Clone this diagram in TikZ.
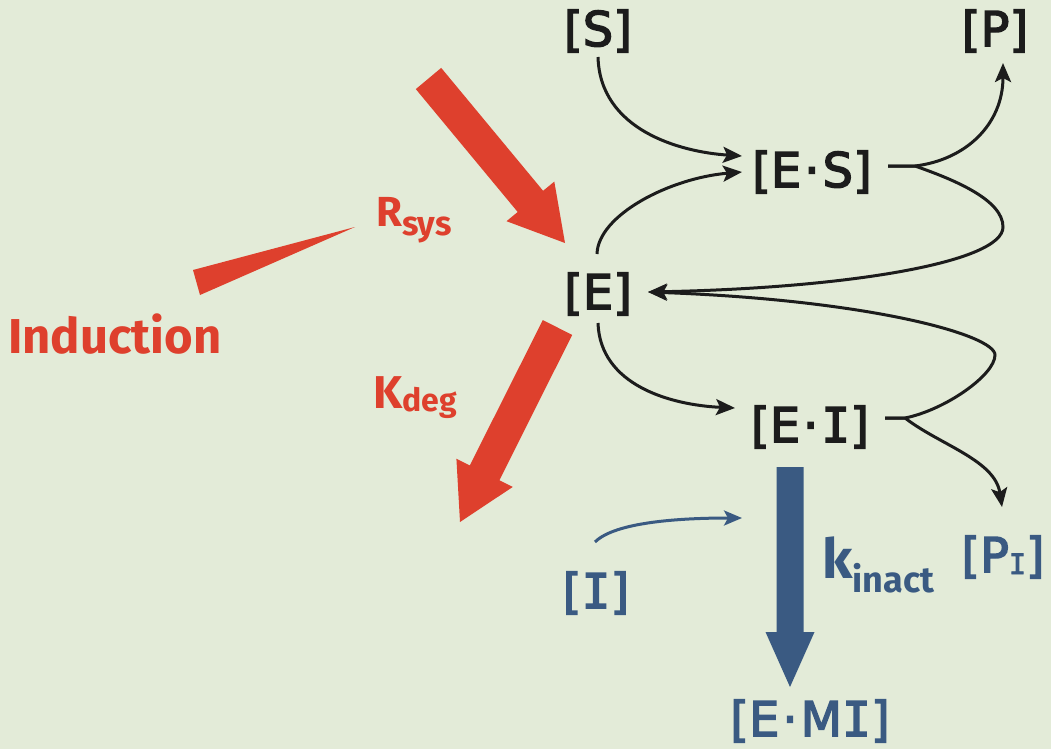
\documentclass[tikz,border=0pt]{standalone}
\usepackage{fontspec}
\usetikzlibrary{arrows.meta,calc}
\newfontfamily\brk{DejaVu Sans}[FakeBold=3]
\newfontfamily\brkm{DejaVu Sans Mono}[FakeBold=3]
\newfontfamily\cmc{Fira Sans}
\newcommand{\serI}{{\brkm I}}
\definecolor{bg}{RGB}{227,235,216}
\definecolor{redA}{RGB}{222,64,45}
\definecolor{blueA}{RGB}{58,90,130}
\definecolor{ink}{RGB}{28,28,28}
\tikzset{
  species/.style={inner sep=0pt, outer sep=0pt, font=\brk\fontsize{48}{52}\selectfont, text=ink},
  bspecies/.style={species, text=blueA},
  flow/.style={draw=ink, line width=3pt, -{Stealth[length=19pt,width=16pt,inset=4pt]}},
  bflow/.style={draw=blueA, line width=3pt, -{Stealth[length=18pt,width=15pt,inset=4pt]}},
  redlbl/.style={inner sep=0pt, text=redA, anchor=base west},
  bluelbl/.style={inner sep=0pt, text=blueA, anchor=base west},
}
\begin{document}
\begin{tikzpicture}[x=1pt,y=-1pt]
\fill[bg] (0,0) rectangle (1051,749);
\useasboundingbox (0,0) rectangle (1051,749);

% species
\node[species] (S) at (598,31) {[S]};
\node[species] (P) at (995,31) {[P]};
\node[species] (ES) at (812,172) {[E\kern3pt·\kern3pt S]};
\node[species] (E) at (598,294) {[E]};
\node[species] (EI) at (810,427) {[E\kern3pt·\kern3pt\serI]};
\node[bspecies] (PI) at (1003,557) {[P\raisebox{-2pt}{\fontsize{28}{30}\selectfont\serI}]};
\node[bspecies] (I) at (596,593) {[\serI]};
\node[bspecies] (EMI) at (810,721) {[E\kern3pt·\kern3pt M\serI]};

% labels
\node[redlbl, font=\cmc\bfseries\fontsize{49}{53}\selectfont] (ind) at (8,353) {Induction};
\node[redlbl, font=\cmc\bfseries\fontsize{42}{44}\selectfont] (rsys) at (376,226) {R\raisebox{-9pt}{\fontsize{34}{36}\selectfont sys}};
\node[redlbl, font=\cmc\bfseries\fontsize{46}{48}\selectfont] (kdeg) at (373,408) {K\raisebox{-3pt}{\fontsize{32}{34}\selectfont deg}};
\node[bluelbl, font=\cmc\bfseries\fontsize{55}{58}\selectfont] (kin) at (822,578) {k\raisebox{-14pt}{\fontsize{36}{38}\selectfont inact}};

% red shapes
\fill[redA] (441.2,67.9) -- (543.1,190.8) -- (554.3,181.6) -- (565,243) -- (506.5,221.2) -- (517.7,212.0) -- (415.8,89.1) -- cycle;
\fill[redA] (572.2,334.9) -- (499.4,480.2) -- (512.8,486.9) -- (460,522) -- (456.4,458.7) -- (469.8,465.4) -- (542.8,320.1) -- cycle;
\fill[redA] (193,270) -- (355,227) -- (200,295) -- cycle;

% black connectors
\draw[flow] ($(S)+(0,26)$) .. controls (600,130) and (680,152) .. ($(ES)+(-70,-16)$);
\draw[flow] ($(E)+(-1,-40)$) .. controls (598,215) and (670,178) .. ($(ES)+(-70,0)$);
\draw[flow] ($(ES)+(76,-6)$) -- (915,166) .. controls (965,160) and (1003,125) .. ($(P)+(8,32)$);
\draw[flow] ($(ES)+(76,-6)$) -- (915,166) .. controls (955,180) and (1003,200) .. (1003,227) .. controls (1003,262) and (850,288) .. ($(E)+(50,-2)$);
\draw[flow] ($(E)+(0,29)$) .. controls (600,385) and (670,405) .. ($(EI)+(-75,-19)$);
\draw[flow] ($(EI)+(75,-9)$) -- (905,418) .. controls (945,410) and (995,375) .. (995,355) .. controls (995,335) and (870,300) .. ($(E)+(50,-2)$);
\draw[flow] ($(EI)+(75,-9)$) -- (905,418) .. controls (940,445) and (995,460) .. ($(PI)+(-1,-50)$);

% blue connectors
\coordinate (iin) at (742,518);
\draw[bflow] ($(I)+(-1,-51)$) .. controls (615,522) and (680,518) .. (iin);
\coordinate (ka) at ($(EI)+(-20,40)$);
\coordinate (kb) at ($(EMI)+(-20,-34)$);
\fill[blueA] ($(ka)+(-13.5,0)$) -- ($(ka)+(13.5,0)$) -- ($(kb)+(13.5,-55)$) -- ($(kb)+(24.5,-55)$) -- (kb) -- ($(kb)+(-24.5,-55)$) -- ($(kb)+(-13.5,-55)$) -- cycle;
\end{tikzpicture}
\end{document}
